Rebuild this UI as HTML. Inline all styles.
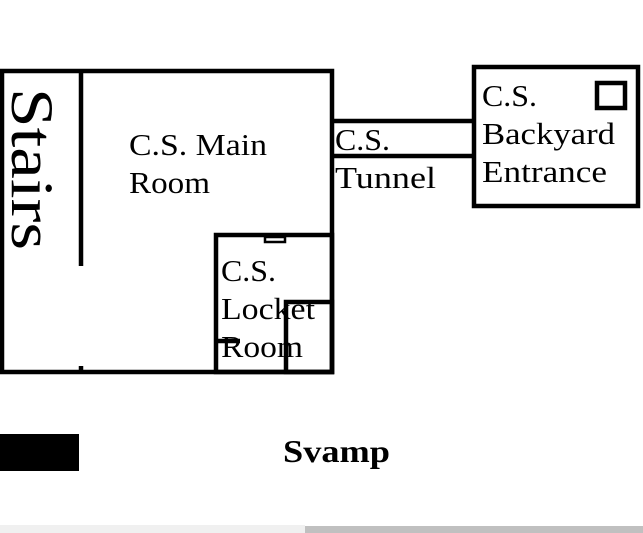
<!DOCTYPE html>
<html><head><style>html,body{margin:0;padding:0;background:#fff;width:643px;height:533px;overflow:hidden}</style></head>
<body>
<svg width="643" height="533" xmlns="http://www.w3.org/2000/svg" font-family="Liberation Serif, serif">
<rect x="0" y="0" width="643" height="533" fill="#fff"/>
<g fill="none" stroke="#000" stroke-width="4.5">
<rect x="2" y="71" width="330" height="301"/>
<rect x="216" y="235" width="116" height="137"/>
<rect x="286" y="302" width="46" height="70"/>
<rect x="474" y="67" width="164" height="139"/>
<rect x="597" y="83" width="28" height="25"/>
<line x1="81" y1="71" x2="81" y2="266"/>
<line x1="81" y1="366" x2="81" y2="372"/>
<line x1="332" y1="121" x2="474" y2="121"/>
<line x1="332" y1="156" x2="474" y2="156"/>
<line x1="218" y1="341" x2="240" y2="341"/>
</g>
<rect x="265" y="237" width="20" height="5" fill="none" stroke="#000" stroke-width="2.5"/>
<g font-size="31" fill="#000" lengthAdjust="spacingAndGlyphs">
<text x="129" y="155" textLength="138" lengthAdjust="spacingAndGlyphs">C.S. Main</text>
<text x="129" y="193" textLength="81" lengthAdjust="spacingAndGlyphs">Room</text>
<text x="221" y="281" textLength="55" lengthAdjust="spacingAndGlyphs">C.S.</text>
<text x="221" y="319" textLength="94" lengthAdjust="spacingAndGlyphs">Locket</text>
<text x="221" y="357" textLength="82" lengthAdjust="spacingAndGlyphs">Room</text>
<text x="335" y="150" textLength="55" lengthAdjust="spacingAndGlyphs">C.S.</text>
<text x="335" y="188" textLength="101" lengthAdjust="spacingAndGlyphs">Tunnel</text>
<text x="482" y="106" textLength="55" lengthAdjust="spacingAndGlyphs">C.S.</text>
<text x="482" y="144" textLength="133" lengthAdjust="spacingAndGlyphs">Backyard</text>
<text x="482" y="182" textLength="125" lengthAdjust="spacingAndGlyphs">Entrance</text>
</g>
<text transform="translate(12,88) rotate(90)" font-size="60" fill="#000" textLength="162" lengthAdjust="spacingAndGlyphs">Stairs</text>
<rect x="0" y="434" width="79" height="37" fill="#000"/>
<text x="283" y="462" font-size="32" font-weight="bold" fill="#000" textLength="107" lengthAdjust="spacingAndGlyphs">Svamp</text>
<rect x="0" y="525" width="305" height="8" fill="#f0f0f0"/>
<rect x="305" y="526" width="338" height="7" fill="#c0c0c0"/>
</svg>
</body></html>
